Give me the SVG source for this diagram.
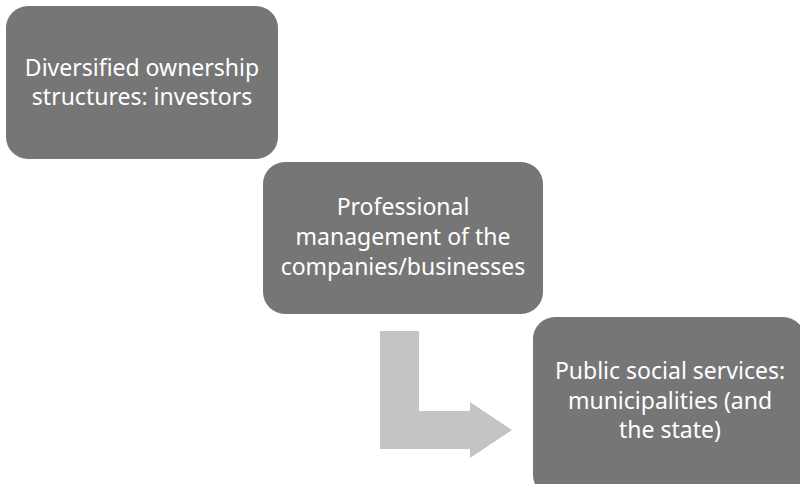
<svg xmlns="http://www.w3.org/2000/svg" width="800" height="484" viewBox="0 0 800 484">
<style>
.box{fill:#767676;}
.lbl{font-family:"Noto Sans","Open Sans",sans-serif;font-size:23px;fill:#ffffff;text-anchor:middle;}
.arrow{fill:#c4c4c4;}
</style>
<rect width="800" height="484" fill="#ffffff"/>
<g id="connectors">
<polygon class="arrow" points="380,331 419,331 419,411 470,411 470,402 512,430 470,458 470,449 380,449"/>
</g>
<g id="node1">
<rect class="box" x="6" y="6" width="272" height="153" rx="22" ry="22"/>
<text class="lbl" x="142" y="76">Diversified ownership</text>
<text class="lbl" x="142" y="105">structures: investors</text>
</g>
<g id="node2">
<rect class="box" x="263" y="162" width="280" height="152" rx="22" ry="22"/>
<text class="lbl" x="403" y="215">Professional</text>
<text class="lbl" x="403" y="245">management of the</text>
<text class="lbl" x="403" y="275">companies/businesses</text>
</g>
<g id="node3">
<rect class="box" x="533" y="317" width="272" height="180" rx="22" ry="22"/>
<text class="lbl" x="670" y="379">Public social services:</text>
<text class="lbl" x="670" y="409">municipalities (and</text>
<text class="lbl" x="670" y="438">the state)</text>
</g>
</svg>
